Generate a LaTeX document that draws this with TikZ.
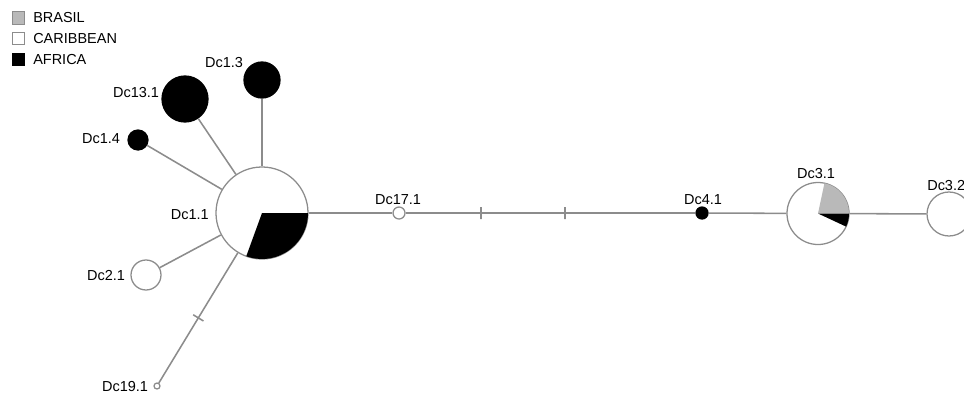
\documentclass[tikz,border=0pt]{standalone}
\usepackage{fontspec}
\setmainfont{Liberation Sans}
\usetikzlibrary{positioning}

\definecolor{edgegray}{HTML}{8C8C8C}
\definecolor{brasilgray}{HTML}{B9B9B9}

\begin{document}
\begin{tikzpicture}[
    x=0.025cm, y=0.025cm,
    hap/.style={circle, draw=edgegray, line width=0.9pt, fill=white,
                inner sep=0pt, minimum size=#1*0.5mm},
    afr/.style={hap=#1, fill=black, draw=black},
    lbl/.style={font=\fontsize{10.3}{12}\selectfont, inner sep=0pt},
    link/.style={draw=edgegray, line width=1.1pt},
    tickmark/.style={draw=edgegray, line width=1.1pt, sloped, inner sep=0pt,
                     minimum width=0pt, minimum height=3mm},
    key/.style={draw=edgegray, line width=0.8pt, minimum size=3.2mm, inner sep=0pt}
]
  \useasboundingbox (0,0) rectangle (964,397);
  \clip (0,0) rectangle (964,397);

  % Legend
  \node[key, fill=brasilgray] (kb) at (18.5,379) {};
  \node[key, fill=white] (kc) at (18.5,358.5) {};
  \node[key, fill=black, draw=black] (ka) at (18.5,337.5) {};
  \node[lbl, anchor=west] (tb) at (33,379) {BRASIL};
  \node[lbl, anchor=west] (tc) at (33,358.5) {CARIBBEAN};
  \node[lbl, anchor=west] (ta) at (33,337.5) {AFRICA};

  % Haplotypes
  \node[hap=46] (n11) at (262,184) {};
  \node[afr=18] (n13) at (262,317) {};
  \node[afr=23] (n131) at (185,298) {};
  \node[afr=10] (n14) at (138,257) {};
  \node[hap=15] (n21) at (146,122) {};
  \node[hap=3] (n191) at (157,11) {};
  \node[hap=6] (n171) at (399,184) {};
  \node[afr=6] (n41) at (702,184) {};
  \node[hap=31] (n31) at (818,183.5) {};
  \node[hap=22] (n32) at (949,183) {};

  % Pie slices
  \fill[black] (n11.center) -- ++(0:46) arc[start angle=0, end angle=-110, radius=46] -- cycle;
  \fill[brasilgray] (n31.center) -- ++(0:31) arc[start angle=0, end angle=78, radius=31] -- cycle;
  \fill[black] (n31.center) -- ++(0:31) arc[start angle=0, end angle=-25, radius=31] -- cycle;

  % Links
  \draw[link] (n13) -- (n11);
  \draw[link] (n131) -- (n11);
  \draw[link] (n14) -- (n11);
  \draw[link] (n21) -- (n11);
  \draw[link] (n11) -- (n191) node[tickmark, pos=.5] (m1) {};
  \draw[link] (n11) -- (n171);
  \draw[link] (n171) -- (n41) node[tickmark, pos=.26] (m2) {}
                              node[tickmark, pos=.55] (m3) {};
  \draw[link] (n41) -- (n31);
  \draw[link] (n31) -- (n32);

  % Labels
  \node[lbl, anchor=east] (t11) at (209,182) {Dc1.1};
  \node[lbl] (t13) at (224,334) {Dc1.3};
  \node[lbl] (t131) at (136,304) {Dc13.1};
  \node[lbl] (t14) at (101,258) {Dc1.4};
  \node[lbl] (t21) at (106,121) {Dc2.1};
  \node[lbl] (t191) at (125,10) {Dc19.1};
  \node[lbl] (t171) at (398,197) {Dc17.1};
  \node[lbl] (t41) at (703,197) {Dc4.1};
  \node[lbl] (t31) at (816,223) {Dc3.1};
  \node[lbl, anchor=west] (t32) at (927,211) {Dc3.2};
\end{tikzpicture}
\end{document}
